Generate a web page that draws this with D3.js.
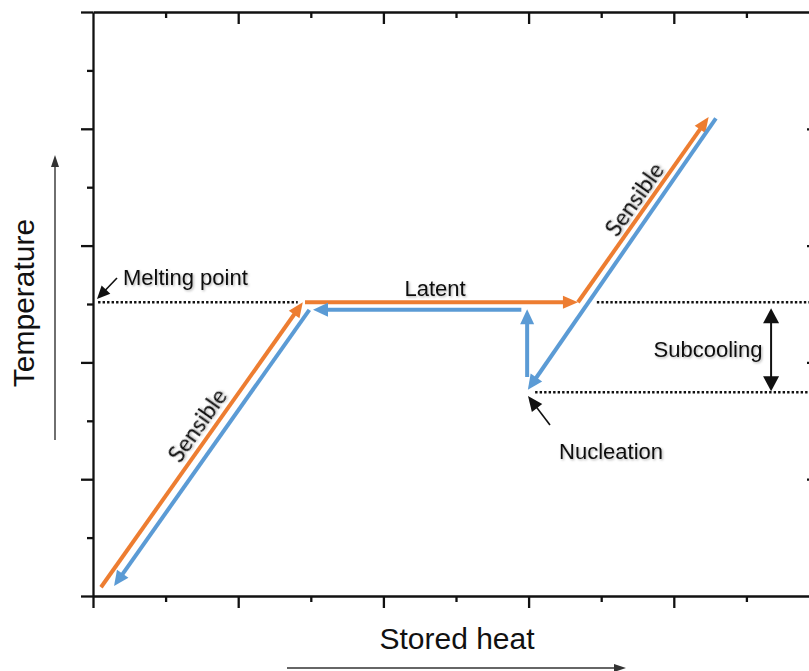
<!DOCTYPE html>
<html>
<head>
<meta charset="utf-8">
<script src="https://cdn.jsdelivr.net/npm/d3@7"></script>
<style>
  html, body { margin: 0; padding: 0; background: #fff; }
  svg { display: block; }
</style>
</head>
<body>
<svg id="chart" width="809" height="671"></svg>
<script>
// ---------- data (schematic units) ----------
const xTicks = [0, 1, 2, 3, 4, 5, 6, 7, 8, 9, 10];
const yTicks = [0, 1, 2, 3, 4, 5, 6, 7, 8, 9, 10];
const meltingT = 5.03;
const subcoolT = 3.49;
// heating path (orange): sensible -> latent -> sensible
const heatingX = [[0.11, 2.89], [2.92, 6.68], [6.68, 8.48]];
const heatingY = [[0.15, 5.03], [5.03, 5.03], [5.03, 8.20]];
// cooling path (blue): sensible (subcooled) -> nucleation -> latent -> sensible
const coolingX = [[8.58, 5.99], [5.98, 5.98], [5.90, 3.03], [2.98, 0.29]];
const coolingY = [[8.18, 3.53], [3.75, 4.91], [4.90, 4.90], [4.90, 0.17]];
const meltDotsLeftX = [0.07, 2.82];
const meltDotsRightX = [6.94, 10];
const subcoolDotsX = [6.09, 10];
const subcoolArrowX = 9.34;

// ---------- layout ----------
const svg = d3.select("#chart");
const W = 809, H = 671;
const x = d3.scaleLinear().domain([0, 10]).range([93, 819]);
const y = d3.scaleLinear().domain([0, 10]).range([596, 12]);

const ORANGE = "#ED7D31", BLUE = "#5B9BD5", INK = "#111";

const defs = svg.append("defs");
const f = defs.append("filter").attr("id", "shadow")
  .attr("x", "-10%").attr("y", "-30%").attr("width", "130%").attr("height", "160%");
f.append("feDropShadow").attr("dx", 1.2).attr("dy", 1.2)
  .attr("stdDeviation", 0.9).attr("flood-color", "#000").attr("flood-opacity", 0.3);

svg.append("rect").attr("width", W).attr("height", H).attr("fill", "#fff");

// ---------- axes (frame) ----------
function styleAxis(g) {
  g.select(".domain").attr("stroke", INK).attr("stroke-width", 2.3);
  g.selectAll(".tick line").attr("stroke", INK).attr("stroke-width", 2.3);
  g.selectAll(".tick text").remove();
}
const tickLen = d => (d % 2 === 0 ? 12 : 6);

const gBottom = svg.append("g").attr("transform", `translate(0,${y(0)})`)
  .call(d3.axisBottom(x).tickValues(xTicks).tickSizeOuter(0).tickFormat(""));
gBottom.selectAll(".tick line").attr("y2", d => tickLen(d));
styleAxis(gBottom);

const gTop = svg.append("g").attr("transform", `translate(0,${y(10)})`)
  .call(d3.axisBottom(x).tickValues(xTicks.filter(d => d > 0 && d < 10)).tickSizeOuter(0).tickFormat(""));
gTop.selectAll(".tick line").attr("y2", d => tickLen(d));
styleAxis(gTop);

const gLeft = svg.append("g").attr("transform", `translate(${x(0)},0)`)
  .call(d3.axisLeft(y).tickValues(yTicks).tickSizeOuter(0).tickFormat(""));
gLeft.selectAll(".tick line").attr("x2", d => -tickLen(d));
styleAxis(gLeft);

const gRight = svg.append("g").attr("transform", `translate(${x(10)},0)`)
  .call(d3.axisLeft(y).tickValues(yTicks.filter(d => d > 0 && d < 10)).tickSizeOuter(0).tickFormat(""));
gRight.selectAll(".tick line").attr("x2", d => -tickLen(d));
styleAxis(gRight);

// ---------- helpers ----------
function arrow(g, x1, y1, x2, y2, color, width, headLen, headW, headAtStart) {
  const dx = x2 - x1, dy = y2 - y1, L = Math.hypot(dx, dy);
  const ux = dx / L, uy = dy / L, px = -uy, py = ux;
  const ex = x2 - ux * headLen * 0.9, ey = y2 - uy * headLen * 0.9;
  let sx = x1, sy = y1;
  if (headAtStart) { sx = x1 + ux * headLen * 0.9; sy = y1 + uy * headLen * 0.9; }
  g.append("line").attr("x1", sx).attr("y1", sy).attr("x2", ex).attr("y2", ey)
    .attr("stroke", color).attr("stroke-width", width);
  const bx = x2 - ux * headLen, by = y2 - uy * headLen;
  g.append("path")
    .attr("d", `M${x2},${y2}L${bx + px * headW / 2},${by + py * headW / 2}L${bx - px * headW / 2},${by - py * headW / 2}Z`)
    .attr("fill", color);
  if (headAtStart) {
    const cx = x1 + ux * headLen, cy = y1 + uy * headLen;
    g.append("path")
      .attr("d", `M${x1},${y1}L${cx + px * headW / 2},${cy + py * headW / 2}L${cx - px * headW / 2},${cy - py * headW / 2}Z`)
      .attr("fill", color);
  }
}

// ---------- dotted reference lines ----------
const gDots = svg.append("g").attr("stroke", INK).attr("stroke-width", 2.5)
  .attr("stroke-dasharray", "2.4,2.1").attr("fill", "none");
[[meltDotsLeftX, meltingT], [meltDotsRightX, meltingT], [subcoolDotsX, subcoolT]].forEach(([xs, t]) => {
  gDots.append("line").attr("x1", x(xs[0])).attr("x2", x(xs[1]))
    .attr("y1", y(t)).attr("y2", y(t));
});

// ---------- curves ----------
const gPaths = svg.append("g");
heatingX.forEach((xs, i) => {
  const ys = heatingY[i];
  arrow(gPaths, x(xs[0]), y(ys[0]), x(xs[1]), y(ys[1]), ORANGE, 4, 15, 13);
});
coolingX.forEach((xs, i) => {
  const ys = coolingY[i];
  arrow(gPaths, x(xs[0]), y(ys[0]), x(xs[1]), y(ys[1]), BLUE, 4, 15, 14);
});

// subcooling double arrow
arrow(svg.append("g"), x(subcoolArrowX), y(meltingT) + 6, x(subcoolArrowX), y(subcoolT) - 1, INK, 2, 15, 16, true);

// nucleation pointer
arrow(svg.append("g"), 550, 425, 528, 396, INK, 1.6, 15, 13);
// melting point pointer
arrow(svg.append("g"), 117, 278, 97, 299, INK, 1.6, 13, 12);

// ---------- labels ----------
const sans = "'Liberation Sans', Arial, Helvetica, sans-serif";
function label(txt, tx, ty, size, anchor, rot, family, shadow) {
  const t = svg.append("text").text(txt)
    .attr("font-family", family || sans).attr("font-size", size)
    .attr("fill", INK).attr("text-anchor", anchor || "start")
    .attr("transform", `translate(${tx},${ty})` + (rot ? ` rotate(${rot})` : ""));
  if (shadow) t.attr("filter", "url(#shadow)");
  return t;
}
label("Latent", 435, 296, 22, "middle", 0, null, true);
label("Subcooling", 708, 357, 22, "middle", 0, null, true);
label("Nucleation", 611, 459, 22, "middle", 0, null, true);
label("Melting point", 123, 285, 22, "start", 0, null, true);

const slopeAngle = Math.atan2(y(heatingY[0][1]) - y(heatingY[0][0]), x(heatingX[0][1]) - x(heatingX[0][0])) * 180 / Math.PI;
label("Sensible", 204, 430, 23, "middle", slopeAngle, "Lato, 'Open Sans', sans-serif", true);
label("Sensible", 641, 204, 23, "middle", slopeAngle, "Lato, 'Open Sans', sans-serif", true);

label("Stored heat", 457, 649, 30, "middle", 0, sans, false);
label("Temperature", 34, 303, 30, "middle", -90, sans, false);

// axis direction arrows
arrow(svg.append("g"), 55, 440, 55, 155, "#333", 1.4, 12, 8);
arrow(svg.append("g"), 287, 668, 626, 668, "#333", 1.4, 12, 8);
</script>
</body>
</html>
